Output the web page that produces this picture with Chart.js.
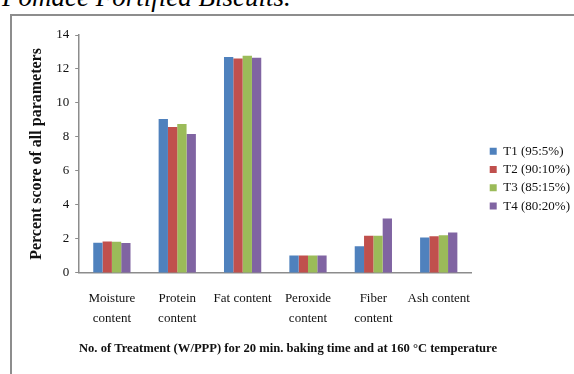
<!DOCTYPE html>
<html><head><meta charset="utf-8">
<script src="https://cdn.jsdelivr.net/npm/chart.js@4/dist/chart.umd.min.js"></script>
<style>
html,body{margin:0;padding:0;background:#fff;}
body{width:574px;height:374px;position:relative;overflow:hidden;}
#cap{position:absolute;left:2px;top:-16px;font:italic 27px/27px "Liberation Serif",serif;color:#000;white-space:nowrap;}
#frame{position:absolute;left:10px;top:14px;width:620px;height:420px;border-left:2px solid #8d8d8d;border-top:2px solid #8d8d8d;}
#wrap{position:absolute;left:0;top:0;width:574px;height:374px;}
</style></head><body>
<div id="cap">Pomace Fortified Biscuits.</div>
<div id="frame"></div>
<div id="wrap"><canvas id="c" width="574" height="374"></canvas></div>
<script>
// Quality parameters of the biscuit treatments (percent score)
const categories = [["Moisture", "content"], ["Protein", "content"], "Fat content", ["Peroxide", "content"], ["Fiber", "content"], "Ash content"];
const seriesNames = ["T1 (95:5%)", "T2 (90:10%)", "T3 (85:15%)", "T4 (80:20%)"];
const t1 = [1.77, 9.05, 12.70, 1.02, 1.56, 2.08];
const t2 = [1.84, 8.58, 12.62, 1.03, 2.18, 2.15];
const t3 = [1.83, 8.76, 12.78, 1.03, 2.18, 2.22];
const t4 = [1.76, 8.17, 12.66, 1.03, 3.20, 2.38];
const yTicks = [0, 2, 4, 6, 8, 10, 12, 14];
const yTitle = "Percent score of all parameters";
const xTitle = "No. of Treatment (W/PPP) for 20 min. baking time and at 160 \u00B0C temperature";
const colors = ["#4F81BD", "#C0504D", "#9BBB59", "#8064A2"];

const serif = "'Liberation Serif', 'Times New Roman', serif";
const ink = "#111";
const axisGrey = "#8c8c8c";

const seriesValues = [t1, t2, t3, t4];
const datasets = seriesValues.map((vals, i) => ({
  label: seriesNames[i],
  data: vals,
  backgroundColor: colors[i],
  borderWidth: 0,
  barPercentage: 1.0,
  categoryPercentage: 0.57
}));

new Chart(document.getElementById("c"), {
  type: "bar",
  data: { labels: categories, datasets },
  options: {
    responsive: false,
    devicePixelRatio: 1,
    animation: false,
    layout: { padding: { left: -4, top: 35, right: -6, bottom: 18 } },
    scales: {
      x: {
        grid: { display: false, drawTicks: false },
        border: { display: true, color: axisGrey, width: 1.5 },
        ticks: {
          color: ink, font: { family: serif, size: 13, lineHeight: 1.5 },
          maxRotation: 0, autoSkip: false, padding: 16
        },
        afterFit: s => { s.height = 62; }
      },
      y: {
        min: 0, max: 14,
        afterBuildTicks: s => { s.ticks = yTicks.map(v => ({ value: v })); },
        grid: { drawOnChartArea: false, drawTicks: true, tickLength: 4, color: axisGrey },
        border: { display: true, color: axisGrey, width: 1.5 },
        ticks: { color: ink, font: { family: serif, size: 13 }, padding: 6 },
        title: {
          display: true, text: yTitle, color: ink,
          font: { family: serif, size: 16, weight: "bold" },
          padding: { top: 31, bottom: 4 }
        }
      },
      gap: {
        type: "linear", position: "right", display: true,
        grid: { display: false }, border: { display: false },
        ticks: { display: false },
        afterFit: s => { s.width = 13; }
      }
    },
    plugins: {
      legend: {
        position: "right",
        align: "start",
        title: { display: true, text: " ", padding: 45 },
        labels: {
          color: ink, boxWidth: 7, boxHeight: 7, padding: 5.3,
          font: { family: serif, size: 13 }
        }
      },
      title: {
        display: true, position: "bottom", text: xTitle, color: ink,
        font: { family: serif, size: 12.6, weight: "bold" },
        padding: { top: 6, bottom: 0 }
      },
      tooltip: { enabled: false }
    }
  }
});
</script>
</body></html>
